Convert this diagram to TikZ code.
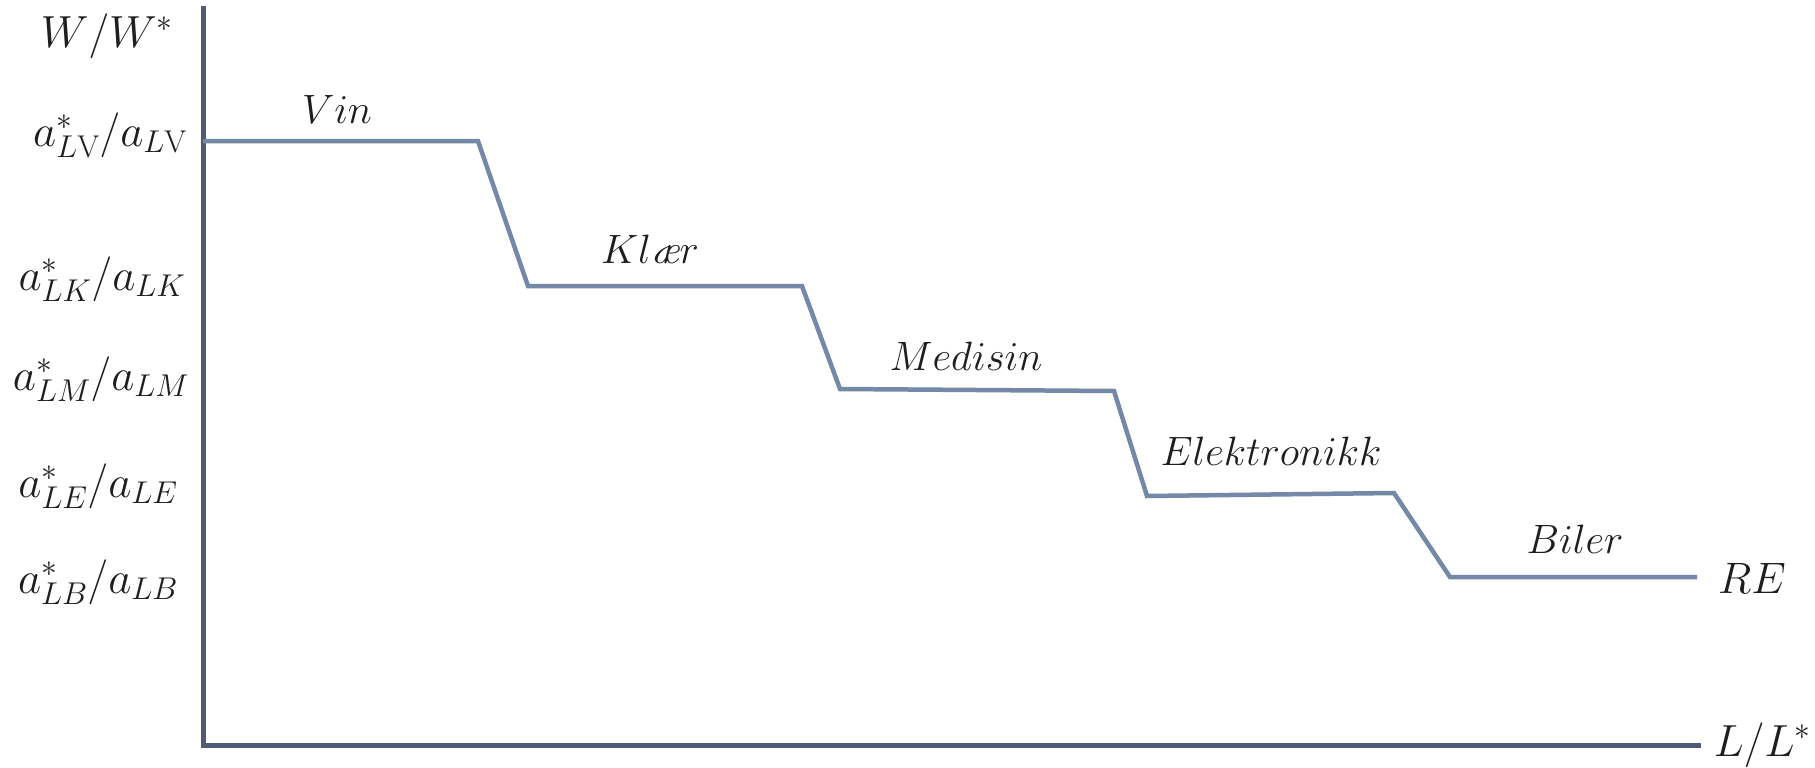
\documentclass[tikz,border=0pt]{standalone}
\usepackage{fix-cm}
\usepackage{fontspec}
\definecolor{curvecol}{RGB}{116,136,167}
\definecolor{axiscol}{RGB}{78,93,117}
\definecolor{txtcol}{RGB}{30,30,30}
\tikzset{
  axisline/.style={draw=axiscol,line width=5pt,line join=miter,line cap=rect},
  curveline/.style={draw=curvecol,line width=4.5pt,line join=miter},
  ticklab/.style={inner sep=0pt,anchor=base,text=txtcol,font=\fontsize{45}{54}\selectfont},
  seglab/.style={inner sep=0pt,anchor=base,text=txtcol,font=\fontsize{41}{49}\selectfont},
}
\begin{document}
\begin{tikzpicture}[x=1pt,y=-1pt]
\useasboundingbox[fill=white] (0,0) rectangle (1815,768);
% axes
\coordinate (ytop) at (203,9);
\coordinate (orig) at (203,745);
\coordinate (xend) at (1698,745);
\draw[axisline] (ytop) -- (orig) -- (xend);
% curve corners
\coordinate (p0) at (203,141);
\coordinate (p1) at (478,141);
\coordinate (p2) at (528,286);
\coordinate (p3) at (802,286);
\coordinate (p4) at (840,389);
\coordinate (p5) at (1114,391);
\coordinate (p6) at (1147,496);
\coordinate (p7) at (1394,493);
\coordinate (p8) at (1450,577);
\coordinate (p9) at (1697,577);
\draw[curveline] (p0) -- (p1) -- (p2) -- (p3) -- (p4) -- (p5) -- (p6) -- (p7) -- (p8) -- (p9);
% axis labels
\node[ticklab] (wlab) at (107,48) {$W/W^*$};
\node[ticklab] (lv) at (110,146) {$a^*_{L\mathrm{V}}/a_{L\mathrm{V}}$};
\node[ticklab] (lk) at (102,290) {$a^*_{LK}/a_{LK}$};
\node[ticklab] (lm) at (101,390) {$a^*_{LM}/a_{LM}$};
\node[ticklab] (le) at (98,497) {$a^*_{LE}/a_{LE}$};
\node[ticklab] (lb) at (98,593) {$a^*_{LB}/a_{LB}$};
\node[ticklab,font=\fontsize{44}{52}\selectfont] (re) at (1752,593) {$RE$};
\node[ticklab,anchor=base east] (llab) at (1811,756) {$L/L^*$};
% segment labels
\node[seglab] (vin) at (337,123) {$Vin$};
\node[seglab] (klaer) at (650,263) {$Kl\mbox{\itshape æ}r$};
\node[seglab] (med) at (966,370) {$Medisin$};
\node[seglab] (elek) at (1271,465) {$Elektronikk$};
\node[seglab] (bil) at (1575,553) {$Biler$};
\end{tikzpicture}
\end{document}
